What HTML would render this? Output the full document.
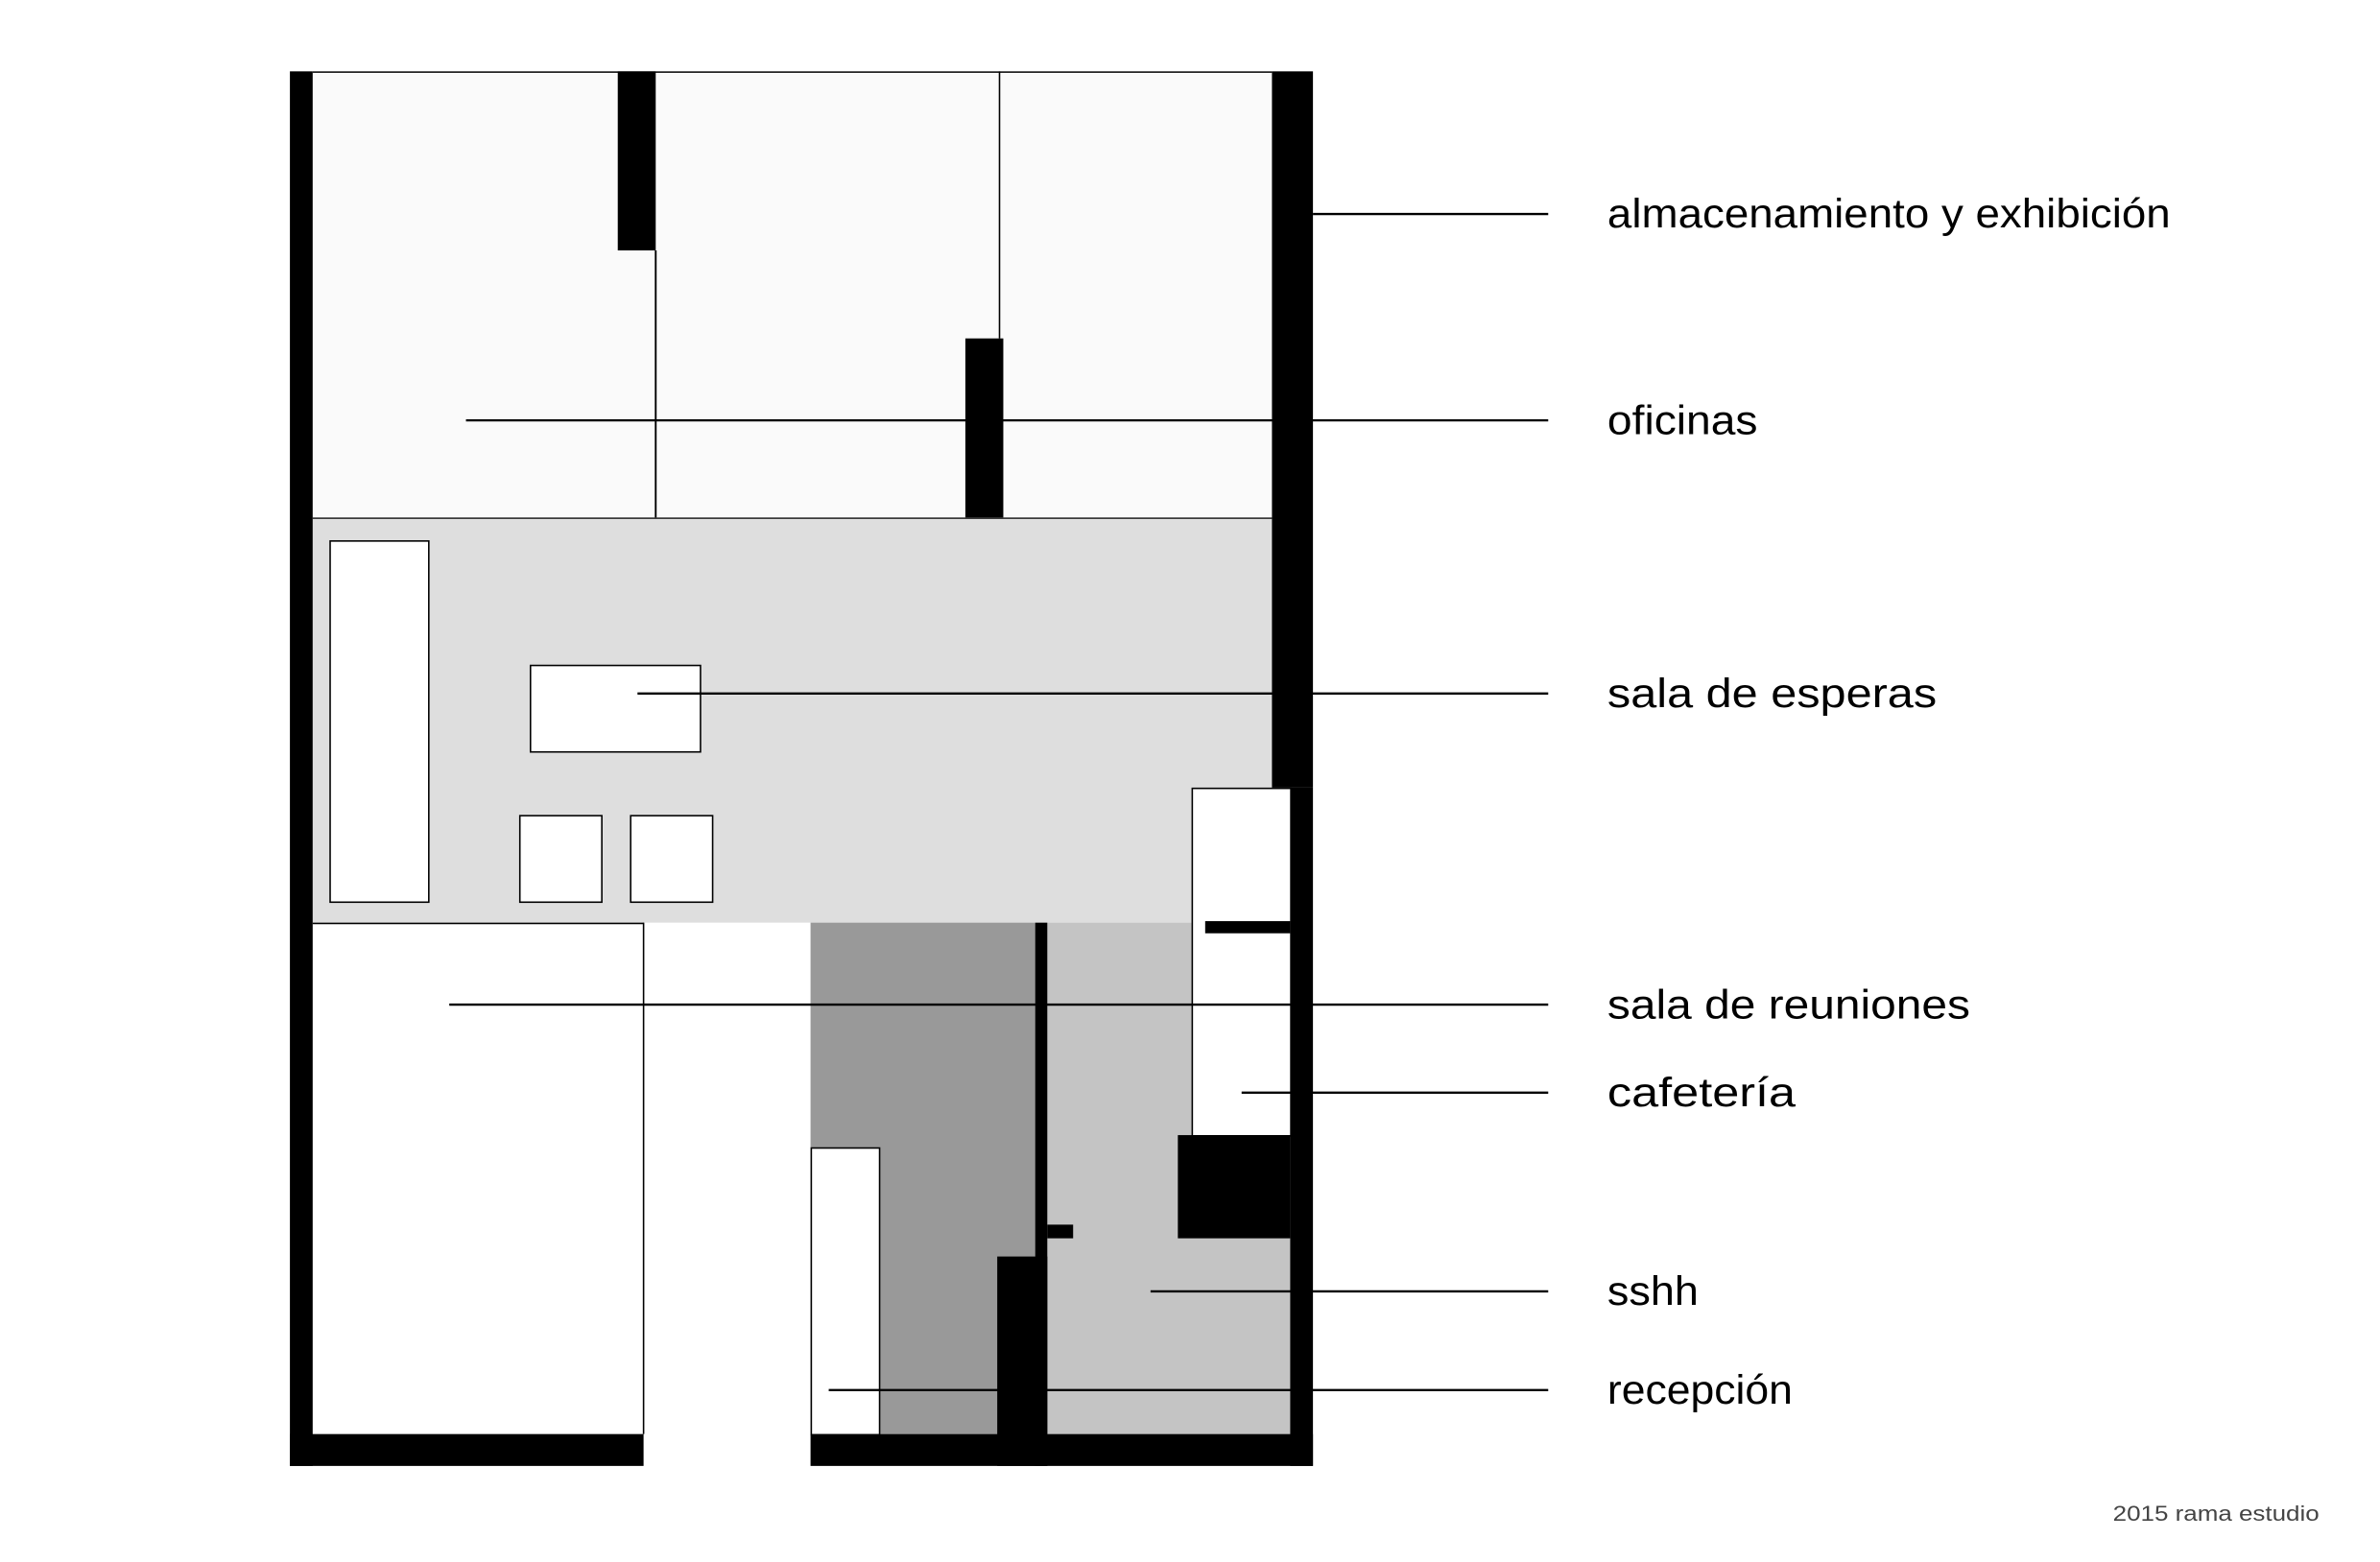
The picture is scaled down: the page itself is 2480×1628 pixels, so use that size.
<!DOCTYPE html>
<html><head><meta charset="utf-8"><style>
html,body{margin:0;padding:0;background:#fff;width:2480px;height:1628px;overflow:hidden}
svg{display:block}
text{font-family:"Liberation Sans",sans-serif;fill:#000}
</style></head><body>
<svg width="2480" height="1628" viewBox="0 0 1568 1029.3" xmlns="http://www.w3.org/2000/svg">
<rect x="0" y="0" width="1568" height="1029.3" fill="#fff"/>
<rect x="206" y="47" width="632" height="294" fill="#fafafa"/>
<line x1="206" y1="47.5" x2="838" y2="47.5" stroke="#000" stroke-width="1"/>
<rect x="206" y="341" width="644" height="267" fill="#dedede"/>
<line x1="206" y1="341.5" x2="838" y2="341.5" stroke="#222" stroke-width="1"/>
<rect x="407" y="47" width="25" height="118" fill="#000"/>
<line x1="432" y1="165" x2="432" y2="341" stroke="#000" stroke-width="1.2"/>
<line x1="658.5" y1="47" x2="658.5" y2="223" stroke="#000" stroke-width="1"/>
<rect x="636" y="223" width="25" height="118" fill="#000"/>
<rect x="217.5" y="356.5" width="65" height="238" fill="#fff" stroke="#000" stroke-width="1"/>
<rect x="349.5" y="438.5" width="112" height="57" fill="#fff" stroke="#000" stroke-width="1"/>
<rect x="342.5" y="537.5" width="54" height="57" fill="#fff" stroke="#000" stroke-width="1"/>
<rect x="415.5" y="537.5" width="54" height="57" fill="#fff" stroke="#000" stroke-width="1"/>
<rect x="206" y="608" width="218" height="337" fill="#fff"/>
<line x1="206" y1="608.5" x2="424" y2="608.5" stroke="#000" stroke-width="1"/>
<line x1="424" y1="608" x2="424" y2="945" stroke="#000" stroke-width="1"/>
<rect x="534" y="608" width="148" height="337" fill="#999"/>
<rect x="690" y="608" width="160" height="337" fill="#c4c4c4"/>
<rect x="785.5" y="519.5" width="65" height="229" fill="#fff" stroke="#000" stroke-width="1"/>
<rect x="794" y="607" width="56" height="8" fill="#000"/>
<rect x="776" y="748" width="74" height="68" fill="#000"/>
<rect x="682" y="608" width="8" height="358" fill="#000"/>
<rect x="690" y="807" width="17" height="9" fill="#000"/>
<rect x="657" y="828" width="33" height="138" fill="#000"/>
<rect x="534.5" y="756.5" width="45" height="189" fill="#fff" stroke="#000" stroke-width="1"/>
<rect x="191" y="47" width="15" height="919" fill="#000"/>
<rect x="191" y="945" width="233" height="21" fill="#000"/>
<rect x="534" y="945" width="331" height="21" fill="#000"/>
<rect x="838" y="47" width="27" height="472" fill="#000"/>
<rect x="850" y="519" width="15" height="447" fill="#000"/>
<g stroke="#000" stroke-width="1.5">
<line x1="865" y1="141" x2="1020" y2="141"/>
<line x1="307" y1="277" x2="1020" y2="277"/>
<line x1="420" y1="457" x2="1020" y2="457"/>
<line x1="296" y1="662" x2="1020" y2="662"/>
<line x1="818" y1="720" x2="1020" y2="720"/>
<line x1="758" y1="851" x2="1020" y2="851"/>
<line x1="546" y1="916" x2="1020" y2="916"/>
</g>
<g font-size="27">
<text x="1059" y="150" textLength="371" lengthAdjust="spacingAndGlyphs">almacenamiento y exhibición</text>
<text x="1059" y="286" textLength="99" lengthAdjust="spacingAndGlyphs">oficinas</text>
<text x="1059" y="466" textLength="217" lengthAdjust="spacingAndGlyphs">sala de esperas</text>
<text x="1059" y="671" textLength="239" lengthAdjust="spacingAndGlyphs">sala de reuniones</text>
<text x="1059" y="729" textLength="124" lengthAdjust="spacingAndGlyphs">cafetería</text>
<text x="1059" y="860" textLength="60" lengthAdjust="spacingAndGlyphs">sshh</text>
<text x="1059" y="925" textLength="122" lengthAdjust="spacingAndGlyphs">recepción</text>
</g>
<text x="1392" y="1002" font-size="14" textLength="136" lengthAdjust="spacingAndGlyphs" style="fill:#444">2015 rama estudio</text>
</svg>
</body></html>
